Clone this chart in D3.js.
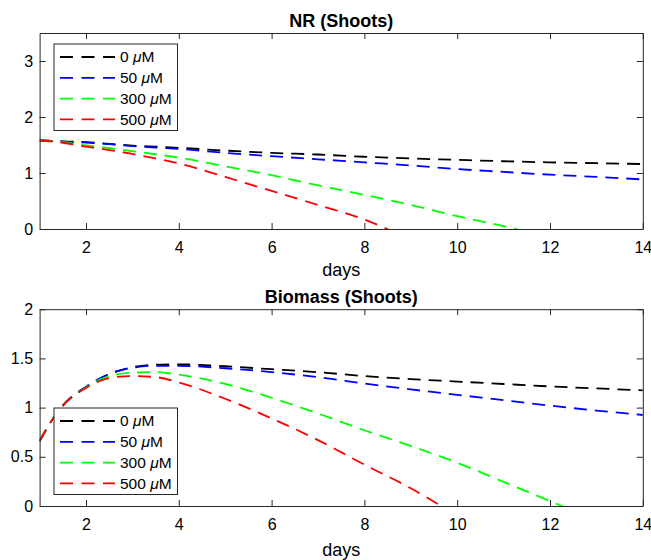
<!DOCTYPE html>
<html><head><meta charset="utf-8">
<script src="https://cdn.jsdelivr.net/npm/d3@7/dist/d3.min.js"></script>
<style>body{margin:0;background:#fff}svg{display:block}text{font-family:"Liberation Sans",Arial,sans-serif}</style>
</head><body><svg id="c" width="651" height="560"></svg>
<script>
const days = [1,1.25,1.5,2,2.5,3,3.5,4,5,6,7,8,9,10,11,12,13,14];
const labels = ["0", "50", "300", "500"];
const colors = ["#000000", "#0000ff", "#00ff00", "#ff0000"];
// NR (Shoots)
const nr0   = [1.58,1.575,1.565,1.55,1.52,1.49,1.47,1.45,1.40,1.36,1.33,1.29,1.26,1.235,1.21,1.19,1.175,1.16];
const nr50  = [1.58,1.575,1.56,1.545,1.515,1.48,1.455,1.43,1.36,1.30,1.245,1.19,1.135,1.07,1.02,0.97,0.93,0.885];
const nr300 = [1.58,1.57,1.55,1.495,1.445,1.39,1.335,1.275,1.12,0.96,0.78,0.61,0.43,0.23,0.05,-0.15,null,null];
const nr500 = [1.58,1.565,1.54,1.47,1.41,1.34,1.26,1.17,0.93,0.68,0.43,0.17,-0.2,null,null,null,null,null];
// Biomass (Shoots)
const bm0   = [0.66,0.86,1.02,1.21,1.34,1.41,1.435,1.44,1.42,1.39,1.36,1.32,1.29,1.265,1.24,1.215,1.195,1.175];
const bm50  = [0.66,0.86,1.02,1.21,1.34,1.405,1.425,1.425,1.40,1.36,1.31,1.245,1.185,1.13,1.075,1.02,0.97,0.925];
const bm300 = [0.66,0.86,1.02,1.205,1.32,1.355,1.36,1.335,1.24,1.10,0.94,0.77,0.61,0.44,0.245,0.05,-0.15,null];
const bm500 = [0.66,0.86,1.02,1.20,1.30,1.32,1.31,1.255,1.09,0.89,0.67,0.42,0.18,-0.1,null,null,null,null];
const xTicks = [2,4,6,8,10,12,14];
const nrTicks = [0,1,2,3];
const bmTicks = [0,0.5,1,1.5,2];

const svg = d3.select("#c");
const L = 39.6, R = 642.8;
const panels = [
  {title:"NR (Shoots)", top:33, bottom:229, ymax:3.5, ticks:nrTicks, series:[nr0,nr50,nr300,nr500], leg:{x:54,y:44}, labY:276, titleY:26.5},
  {title:"Biomass (Shoots)", top:309.2, bottom:506, ymax:2, ticks:bmTicks, series:[bm0,bm50,bm300,bm500], leg:{x:54,y:408}, labY:555.5, titleY:303}
];
const axisCol = "#262626";
panels.forEach((p,pi)=>{
  const x = d3.scaleLinear().domain([1,14]).range([L,R]);
  const y = d3.scaleLinear().domain([0,p.ymax]).range([p.bottom,p.top]);
  const g = svg.append("g");
  const cid = "clip"+pi;
  svg.append("clipPath").attr("id",cid).append("rect")
    .attr("x",L).attr("y",p.top).attr("width",R-L).attr("height",p.bottom-p.top);
  const line = d3.line().defined(d=>d[1]!==null).x(d=>x(d[0])).y(d=>y(d[1])).curve(d3.curveMonotoneX);
  p.series.forEach((s,i)=>{
    g.append("path").attr("clip-path",`url(#${cid})`)
      .datum(days.map((d,j)=>[d,s[j]]))
      .attr("d",line).attr("fill","none").attr("stroke",colors[i])
      .attr("stroke-width",1.8).attr("stroke-dasharray","13,8");
  });
  // axes
  const ax = (axis, tr)=> g.append("g").attr("transform",tr).call(axis)
      .call(a=>a.select(".domain").attr("stroke",axisCol))
      .call(a=>a.selectAll(".tick line").attr("stroke",axisCol))
      .call(a=>a.selectAll("text").attr("fill","#000").attr("font-size",16).attr("font-family",'"Liberation Sans",Arial,sans-serif'));
  ax(d3.axisBottom(x).tickValues(xTicks).tickSizeInner(-6).tickSizeOuter(0).tickPadding(12.5), `translate(0,${p.bottom})`);
  ax(d3.axisTop(x).tickValues(xTicks).tickSizeInner(-6).tickSizeOuter(0).tickFormat(""), `translate(0,${p.top})`);
  ax(d3.axisLeft(y).tickValues(p.ticks).tickSizeInner(-6).tickSizeOuter(0).tickPadding(6.5).tickFormat(d3.format("~g")), `translate(${L},0)`);
  ax(d3.axisRight(y).tickValues(p.ticks).tickSizeInner(-6).tickSizeOuter(0).tickFormat(""), `translate(${R},0)`);
  g.selectAll(".domain").attr("stroke-width",1);
  // title & label
  g.append("text").attr("x",(L+R)/2).attr("y",p.titleY).attr("text-anchor","middle")
    .attr("font-size",18).attr("font-weight","bold").text(p.title);
  g.append("text").attr("x",(L+R)/2).attr("y",p.labY).attr("text-anchor","middle")
    .attr("font-size",18).text("days");
  // legend
  const lg = g.append("g").attr("transform",`translate(${p.leg.x},${p.leg.y})`);
  lg.append("rect").attr("width",123.5).attr("height",86.5).attr("fill","#fff").attr("stroke",axisCol).attr("stroke-width",1);
  labels.forEach((lab,i)=>{
    const yy = 13 + i*20.8;
    lg.append("line").attr("x1",6).attr("x2",61).attr("y1",yy).attr("y2",yy)
      .attr("stroke",colors[i]).attr("stroke-width",1.8).attr("stroke-dasharray","13,8.5");
    const t = lg.append("text").attr("x",66).attr("y",yy+5.4).attr("font-size",15.5);
    t.append("tspan").text(lab+" ");
    t.append("tspan").attr("font-style","italic").text("\u03bc");
    t.append("tspan").text("M");
  });
});
</script></body></html>
